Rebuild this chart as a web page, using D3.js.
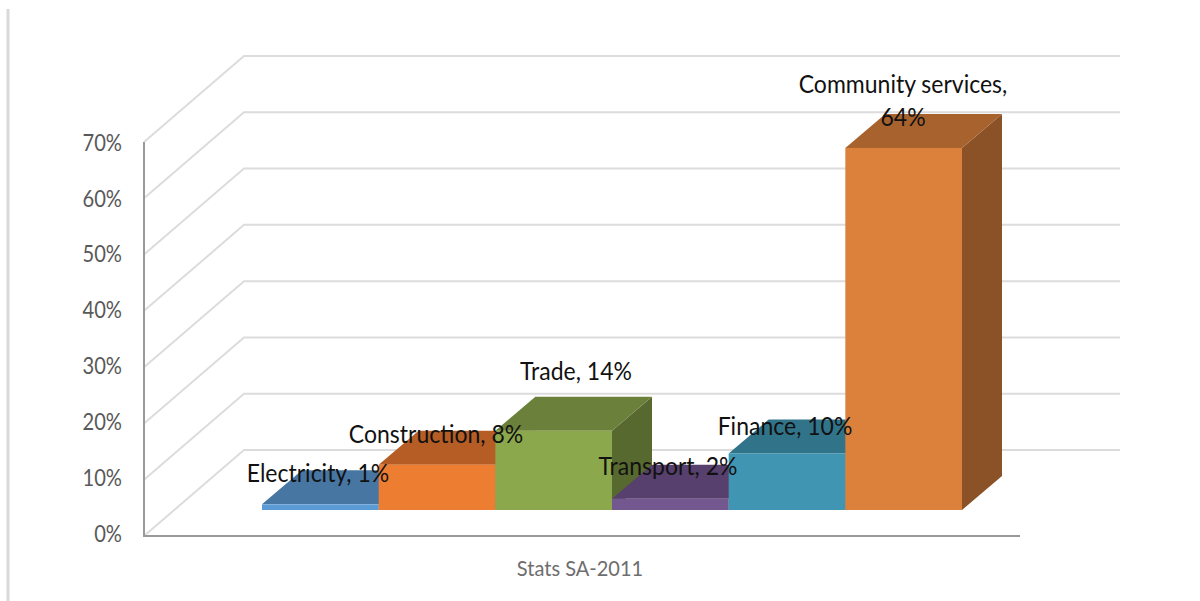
<!DOCTYPE html>
<html>
<head>
<meta charset="utf-8">
<script src="https://cdn.jsdelivr.net/npm/d3@7"></script>
<style>
  html, body { margin: 0; padding: 0; background: #fff; }
  svg { display: block; }
  text { font-family: Lato, "Open Sans", sans-serif; }
</style>
</head>
<body>
<svg id="chart" width="1200" height="601"></svg>
<script>
const categories = ["Electricity", "Construction", "Trade", "Transport", "Finance", "Community services"];
const shares = [1, 8, 14, 2, 10, 64];
const frontColors = ["#5b9bd5", "#ed7d31", "#8ba84c", "#73578f", "#4096b2", "#db813c"];
const topColors = ["#4776a3", "#b55d24", "#6b803a", "#573f6e", "#317489", "#a8622e"];
const sideColors = ["#3a6286", "#9a4f1e", "#58692f", "#48345b", "#285f70", "#8a5226"];
const axisTicks = [0, 10, 20, 30, 40, 50, 60, 70];
const axisCaption = "Stats SA-2011";

// Data labels: anchor text centres with one entry per line of text
const labelLines = [["Electricity, 1%"], ["Construction, 8%"], ["Trade, 14%"], ["Transport, 2%"], ["Finance, 10%"], ["Community services,", "64%"]];
const labelCentres = [[318, 473], [436, 434], [576, 371], [668, 466], [785, 426], [903, 84]];

// Oblique projection of the 3-D box
const depth = { dx: 100, dy: -86 };
const barDepth = { dx: 40, dy: -34 };
const svg = d3.select("#chart");

const yWall = d3.scaleLinear().domain([0, 70]).range([536, 142]);
const yTickText = d3.scaleLinear().domain([0, 70]).range([533, 142]);
const xWall = d3.scaleLinear().domain([0, 1]).range([144, 1020]);
const xBar = d3.scaleBand().domain(categories).range([262, 962]);
const yBar = d3.scaleLinear().domain([0, 70]).range([510, 114]);
const poly = pts => pts.map(p => p.join(",")).join(" ");

// Page frame line at the left
svg.append("line").attr("x1", 8).attr("x2", 8).attr("y1", 9).attr("y2", 601)
  .attr("stroke", "#d9d9d9").attr("stroke-width", 3);

// Gridlines running back along the side wall, then across the rear wall
svg.append("g").selectAll("polyline").data(axisTicks).join("polyline")
  .attr("fill", "none").attr("stroke", "#dcdcdc").attr("stroke-width", 2)
  .attr("points", d => poly([
    [xWall(0), yWall(d)],
    [xWall(0) + depth.dx, yWall(d) + depth.dy],
    [xWall(1) + depth.dx, yWall(d) + depth.dy]
  ]));

// Front axis lines
const axisGroup = svg.append("g").attr("stroke", "#999").attr("stroke-width", 2).attr("fill", "none");
axisGroup.append("line").attr("x1", xWall(0)).attr("x2", xWall(0)).attr("y1", yWall(70)).attr("y2", yWall(0));
axisGroup.append("line").attr("x1", xWall(0) - 1).attr("x2", xWall(1)).attr("y1", yWall(0)).attr("y2", yWall(0));

// Tick labels, set slightly condensed
svg.append("g").selectAll("text").data(axisTicks).join("text")
  .attr("transform", d => `translate(122,${yTickText(d)}) scale(0.84,1)`)
  .attr("dy", "0.36em")
  .attr("text-anchor", "end").attr("fill", "#595959").attr("font-size", 24)
  .text(d => d + "%");

svg.append("text").attr("transform", "translate(580,568) scale(0.91,1)").attr("dy", "0.36em")
  .attr("text-anchor", "middle").attr("fill", "#6e6e6e").attr("font-size", 22)
  .text(axisCaption);

// Bars, painted left to right so each one covers its neighbour's hidden faces
const bars = svg.append("g").selectAll("g").data(categories).join("g");
bars.each(function (c, i) {
  const g = d3.select(this);
  const x0 = xBar(c), x1 = x0 + xBar.bandwidth();
  const yb = yBar(0), yt = yBar(shares[i]);
  const { dx, dy } = barDepth;
  g.append("polygon").attr("fill", sideColors[i])
    .attr("points", poly([[x1, yb], [x1 + dx, yb + dy], [x1 + dx, yt + dy], [x1, yt]]));
  g.append("polygon").attr("fill", topColors[i])
    .attr("points", poly([[x0, yt], [x0 + dx, yt + dy], [x1 + dx, yt + dy], [x1, yt]]));
  g.append("rect").attr("fill", frontColors[i])
    .attr("x", x0).attr("y", yt).attr("width", x1 - x0).attr("height", yb - yt);
});

// Data labels on top of everything, condensed to the narrow label face
svg.append("g").selectAll("text").data(labelLines).join("text")
  .attr("text-anchor", "middle").attr("fill", "#111").attr("font-size", 25)
  .attr("transform", (d, i) => `translate(${labelCentres[i][0]},${labelCentres[i][1]}) scale(0.92,1)`)
  .each(function (lines) {
    d3.select(this).selectAll("tspan").data(lines).join("tspan")
      .attr("x", 0)
      .attr("y", (d, k) => k * 33)
      .attr("dy", "0.36em")
      .text(d => d);
  });
</script>
</body>
</html>
